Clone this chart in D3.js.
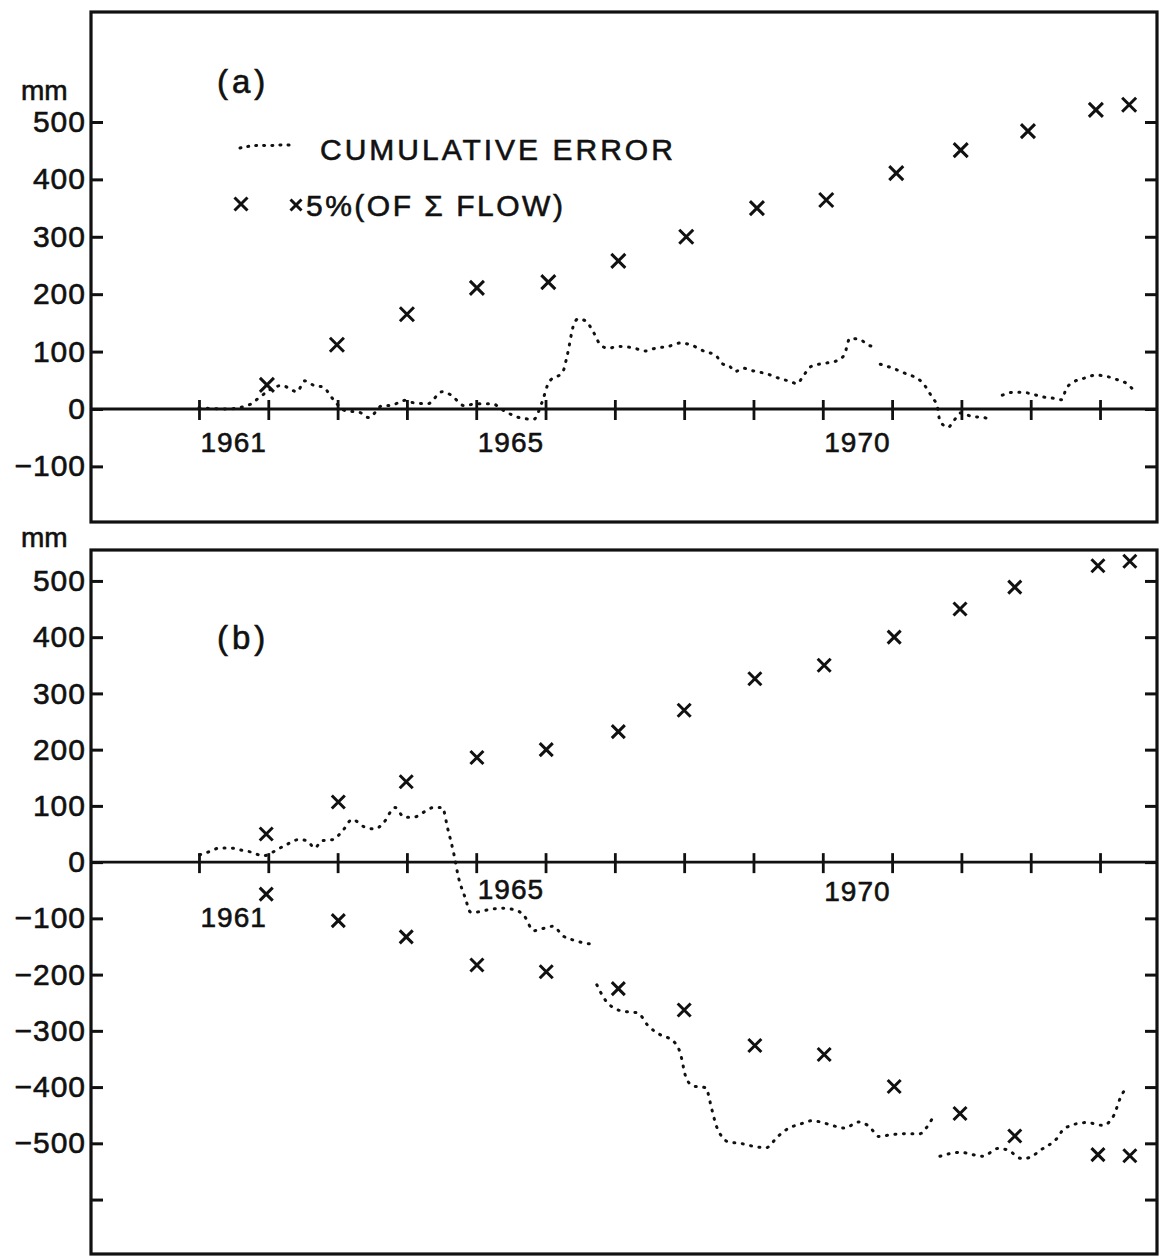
<!DOCTYPE html>
<html>
<head>
<meta charset="utf-8">
<script src="https://cdn.jsdelivr.net/npm/d3@7"></script>
<style>
body { margin: 0; background: #fff; }
text { font-family: "Liberation Sans", Arial, sans-serif; fill: #111; stroke: #111; stroke-width: 0.6px; }
</style>
</head>
<body>
<div id="chart"></div>
<script>
// ---- data ----
var yearTicks = [1961, 1962, 1963, 1964, 1965, 1966, 1967, 1968, 1969, 1970, 1971, 1972, 1973, 1974];
var yearLabels = [1961, 1965, 1970];

// panel (a)
var crossYearsA = [1961.98, 1962.99, 1964.0, 1965.01, 1966.04, 1967.05, 1968.03, 1969.05, 1970.05, 1971.06, 1971.99, 1972.96, 1973.94, 1974.42];
var crossValuesA = [42, 112, 165, 211, 221, 258, 300, 350, 364, 411, 451, 484, 521, 530];
var errorA = [
  [1961.0, 2], [1961.4, 0], [1961.76, 9], [1961.85, 18], [1962.2, 41], [1962.34, 33], [1962.41, 30],
  [1962.53, 49], [1962.66, 41], [1962.8, 38], [1962.89, 24], [1962.99, 9], [1963.11, -3],
  [1963.32, -6], [1963.45, -15], [1963.65, 6], [1963.76, 6], [1963.97, 15], [1964.09, 11],
  [1964.3, 9], [1964.51, 30], [1964.64, 24], [1964.82, 6], [1965.01, 9], [1965.23, 9],
  [1965.4, -3], [1965.62, -15], [1965.83, -18], [1965.95, 12], [1966.05, 47], [1966.25, 65],
  [1966.31, 92], [1966.41, 148], [1966.47, 157], [1966.57, 154], [1966.7, 132], [1966.79, 112],
  [1966.9, 106], [1967.06, 109], [1967.28, 106], [1967.43, 101], [1967.59, 106], [1967.77, 109],
  [1967.95, 115], [1968.11, 111], [1968.3, 100], [1968.45, 94], [1968.55, 79], [1968.66, 74],
  [1968.73, 65], [1968.85, 71], [1969.01, 66], [1969.17, 62], [1969.38, 53], [1969.53, 48],
  [1969.63, 44], [1969.71, 56], [1969.83, 74], [1969.99, 79], [1970.18, 83], [1970.31, 94],
  [1970.39, 123], [1970.54, 121], [1970.64, 112], [1970.72, 109],
  null,
  [1970.83, 78], [1971.01, 71], [1971.19, 62], [1971.32, 56], [1971.43, 47], [1971.59, 18],
  [1971.65, 6], [1971.69, -21], [1971.81, -32], [1971.86, -26], [1971.99, -7], [1972.15, -13],
  [1972.33, -15], [1972.43, -21],
  null,
  [1972.59, 24], [1972.74, 29], [1972.89, 29], [1973.02, 26], [1973.18, 21], [1973.31, 19],
  [1973.45, 16], [1973.51, 35], [1973.62, 47], [1973.78, 54], [1973.94, 59], [1974.12, 56],
  [1974.27, 50], [1974.39, 44], [1974.49, 32]
];

// panel (b)
var crossYearsB = [1961.97, 1963.01, 1963.99, 1965.01, 1966.01, 1967.05, 1968.0, 1969.02, 1970.02, 1971.03, 1971.98, 1972.77, 1973.97, 1974.43];
var crossUpperB = [50, 107, 143, 186, 200, 232, 270, 326, 350, 400, 450, 489, 527, 535];
var crossLowerB = [-57, -104, -133, -183, -195, -225, -263, -326, -342, -399, -447, -487, -520, -522];
var errorB = [
  [1961.01, 13], [1961.16, 19], [1961.29, 25], [1961.46, 25], [1961.62, 21], [1961.78, 17],
  [1961.92, 11], [1962.01, 14], [1962.11, 21], [1962.26, 31], [1962.44, 40], [1962.56, 38],
  [1962.67, 25], [1962.77, 38], [1962.93, 40], [1963.08, 57], [1963.21, 76], [1963.38, 63],
  [1963.54, 59], [1963.65, 68], [1963.83, 97], [1963.96, 80], [1964.1, 80], [1964.26, 90],
  [1964.38, 97], [1964.51, 97], [1964.59, 59], [1964.68, 13], [1964.74, -25], [1964.84, -63],
  [1964.92, -89], [1964.98, -89], [1965.2, -84], [1965.37, -82], [1965.53, -84], [1965.69, -95],
  [1965.83, -122], [1965.96, -118], [1966.11, -114], [1966.25, -131], [1966.41, -139],
  [1966.57, -144], [1966.68, -146],
  null,
  [1966.74, -218], [1966.86, -245], [1967.05, -263], [1967.17, -266], [1967.33, -268],
  [1967.48, -291], [1967.67, -308], [1967.82, -316], [1967.94, -338], [1968.03, -384],
  [1968.13, -398], [1968.31, -401], [1968.4, -440], [1968.47, -471], [1968.65, -498],
  [1968.81, -500], [1968.99, -505], [1969.18, -508], [1969.35, -488], [1969.51, -473],
  [1969.67, -466], [1969.83, -460], [1969.97, -462], [1970.13, -468], [1970.32, -473],
  [1970.51, -462], [1970.67, -470], [1970.81, -488], [1970.97, -485], [1971.19, -483],
  [1971.4, -483], [1971.49, -473], [1971.58, -456],
  null,
  [1971.69, -523], [1971.98, -516], [1972.31, -523], [1972.53, -509], [1972.67, -512],
  [1972.87, -527], [1972.99, -525], [1973.13, -513], [1973.38, -491], [1973.49, -473],
  [1973.81, -463], [1974.04, -468], [1974.14, -461], [1974.2, -450], [1974.29, -420],
  [1974.39, -399]
];

var yTicksA = [500, 400, 300, 200, 100, 0, -100];
var yTicksB = [500, 400, 300, 200, 100, 0, -100, -200, -300, -400, -500, -600];

// ---- drawing ----
var W = 1165, H = 1259;
var svg = d3.select("#chart").append("svg")
    .attr("width", W)
    .attr("height", H);

var left = 91, right = 1157;
var x = d3.scaleLinear().domain([1959.442, 1974.822]).range([left, right]);

function cross(g, px, py, s, w) {
    g.append("path")
        .attr("d", "M" + (px - s) + "," + (py - s) + "L" + (px + s) + "," + (py + s) +
                   "M" + (px - s) + "," + (py + s) + "L" + (px + s) + "," + (py - s))
        .attr("stroke", "#111")
        .attr("stroke-width", w || 3)
        .attr("fill", "none");
}

function drawPanel(p) {
    var y = d3.scaleLinear().domain(p.yDomain).range([p.bottom, p.top]);
    var g = svg.append("g");

    // frame
    g.append("rect")
        .attr("x", left).attr("y", p.top)
        .attr("width", right - left).attr("height", p.bottom - p.top)
        .attr("fill", "none").attr("stroke", "#111").attr("stroke-width", 3.2);

    // left axis, inward ticks
    var yAxisL = g.append("g")
        .attr("transform", "translate(" + left + ",0)")
        .call(d3.axisLeft(y).tickValues(p.yTicks).tickSize(-12).tickPadding(5)
            .tickFormat(function(d){ return d === -600 ? "" : String(d).replace("-", "\u2212"); }));
    yAxisL.select(".domain").remove();
    yAxisL.selectAll("line").attr("stroke", "#111").attr("stroke-width", 3);
    yAxisL.selectAll("text").attr("font-size", 30).attr("letter-spacing", 1)
        .attr("fill", "#111").style("font-family", "'Liberation Sans', Arial, sans-serif");

    // right axis, inward ticks
    var yAxisR = g.append("g")
        .attr("transform", "translate(" + right + ",0)")
        .call(d3.axisRight(y).tickValues(p.yTicks).tickSize(-12).tickFormat(""));
    yAxisR.select(".domain").remove();
    yAxisR.selectAll("line").attr("stroke", "#111").attr("stroke-width", 3);

    // zero line
    g.append("line")
        .attr("x1", left).attr("x2", right)
        .attr("y1", y(0)).attr("y2", y(0))
        .attr("stroke", "#111").attr("stroke-width", 2.8);

    // year ticks crossing the zero line
    var xAxis = g.append("g")
        .attr("transform", "translate(0," + y(0) + ")")
        .call(d3.axisBottom(x).tickValues(yearTicks).tickSize(10).tickFormat(""));
    xAxis.select(".domain").remove();
    xAxis.selectAll("line").attr("y1", -9).attr("y2", 11)
        .attr("stroke", "#111").attr("stroke-width", 2.8);

    // year labels, centred in the year
    g.selectAll(".yl").data(yearLabels).enter().append("text")
        .attr("x", function(d){ return x(d + 0.5); })
        .attr("y", function(d, i){ return p.labelY[i]; })
        .attr("text-anchor", "middle")
        .attr("font-size", 28)
        .attr("letter-spacing", 1)
        .text(function(d){ return d; });

    // mm unit
    g.append("text").attr("x", 21).attr("y", p.mmY)
        .attr("font-size", 28).text("mm");

    // panel letter
    g.append("text").attr("x", 217).attr("y", p.letterY)
        .attr("font-size", 33).attr("letter-spacing", 4).text(p.letter);

    // cumulative error, dotted
    var line = d3.line()
        .defined(function(d){ return d !== null; })
        .x(function(d){ return x(d[0]); })
        .y(function(d){ return y(d[1]); })
        .curve(d3.curveMonotoneX);
    g.append("path")
        .datum(p.error)
        .attr("d", line)
        .attr("fill", "none")
        .attr("stroke", "#111")
        .attr("stroke-width", 3)
        .attr("stroke-linecap", "round")
        .attr("stroke-dasharray", "1 7.5");

    // 5% of flow crosses
    p.crossSets.forEach(function(set){
        set.values.forEach(function(v, i){
            cross(g, x(set.years[i]), y(v), p.crossSize);
        });
    });
    return g;
}

var gA = drawPanel({
    top: 12, bottom: 522,
    yDomain: [-196.9, 691.6],
    yTicks: yTicksA,
    labelY: [452, 452, 452],
    mmY: 100, letterY: 93, letter: "(a)",
    error: errorA,
    crossSize: 7,
    crossSets: [{ years: crossYearsA, values: crossValuesA }]
});

drawPanel({
    top: 550, bottom: 1254,
    yDomain: [-696.8, 555],
    yTicks: yTicksB,
    labelY: [927, 899, 901],
    mmY: 547, letterY: 649, letter: "(b)",
    error: errorB,
    crossSize: 6.5,
    crossSets: [
        { years: crossYearsB, values: crossUpperB },
        { years: crossYearsB, values: crossLowerB }
    ]
});

// legend in panel (a)
var legendDots = [[0, 3], [0.2, 0], [0.45, 1], [0.7, -1], [0.8, 2]];
var lx = d3.scaleLinear().domain([0, 0.8]).range([240, 295]);
gA.append("path")
    .datum(legendDots)
    .attr("d", d3.line().x(function(d){ return lx(d[0]); }).y(function(d){ return 145 + d[1]; }).curve(d3.curveBasis))
    .attr("fill", "none").attr("stroke", "#111").attr("stroke-width", 3)
    .attr("stroke-linecap", "round").attr("stroke-dasharray", "1 7");
gA.append("text").attr("x", 320).attr("y", 160)
    .attr("font-size", 30).attr("letter-spacing", 3).text("CUMULATIVE ERROR");
cross(gA, 241, 204, 6.5);
cross(gA, 296, 205, 5.5);
gA.append("text").attr("x", 306).attr("y", 216)
    .attr("font-size", 30).attr("letter-spacing", 2.5).text("5%(OF  \u03A3  FLOW)");
</script>
</body>
</html>
